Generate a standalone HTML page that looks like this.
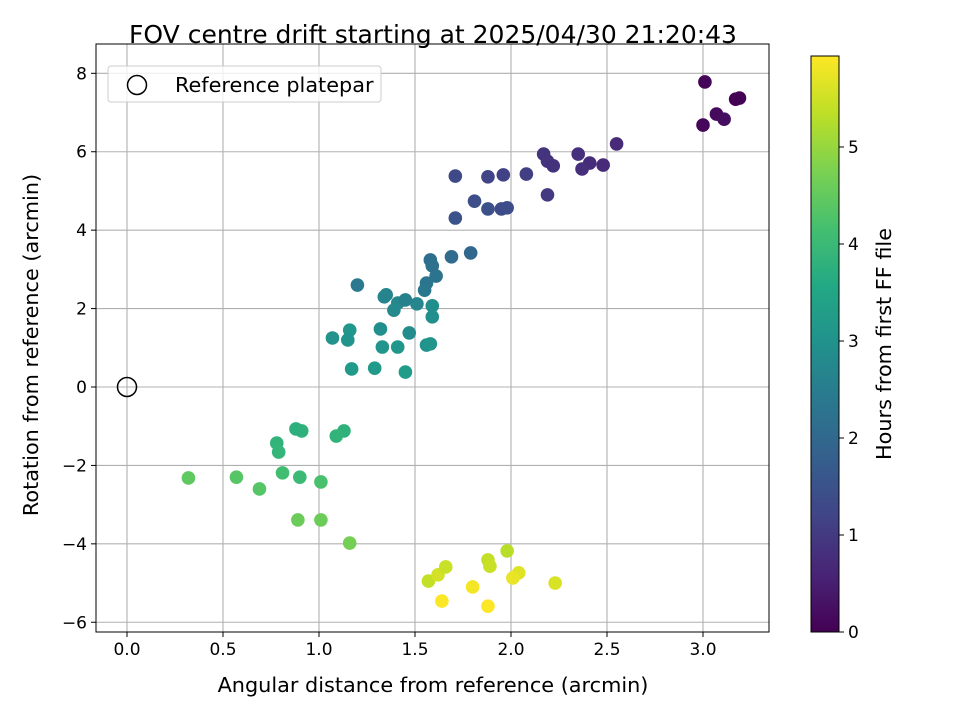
<!DOCTYPE html>
<html><head><meta charset="utf-8"><style>
html,body{margin:0;padding:0;background:#fff;}
svg{display:block;font-family:"DejaVu Sans","Liberation Sans",sans-serif;}
</style></head><body>
<svg id="chart" width="960" height="720">
<defs>
<linearGradient id="vir" x1="0" y1="1" x2="0" y2="0">
<stop offset="0" stop-color="#440154"/><stop offset="0.1" stop-color="#482475"/><stop offset="0.2" stop-color="#414487"/><stop offset="0.3" stop-color="#355f8d"/><stop offset="0.4" stop-color="#2a788e"/><stop offset="0.5" stop-color="#21918c"/><stop offset="0.6" stop-color="#22a884"/><stop offset="0.7" stop-color="#44bf70"/><stop offset="0.8" stop-color="#7ad151"/><stop offset="0.9" stop-color="#bddf26"/><stop offset="1" stop-color="#fde725"/>
</linearGradient>
</defs>
<g id="grid"></g>
<g id="points"></g>
<g id="axes"></g>
<text x="433" y="43" text-anchor="middle" font-size="25">FOV centre drift starting at 2025/04/30 21:20:43</text>
<text x="433" y="692" text-anchor="middle" font-size="20.8">Angular distance from reference (arcmin)</text>
<text transform="translate(38,345) rotate(-90)" text-anchor="middle" font-size="20.8">Rotation from reference (arcmin)</text>
<g>
<rect x="108" y="66" width="273" height="36" rx="3" fill="#fff" fill-opacity="0.8" stroke="#ccc"/>
<circle cx="137" cy="85" r="9.5" fill="none" stroke="#000" stroke-width="1.5"/>
<text x="175" y="92" font-size="20.8">Reference platepar</text>
</g>
<g id="cbar">
<rect x="811" y="56" width="28" height="576" fill="url(#vir)" stroke="#000" stroke-width="1"/>
</g>
<text transform="translate(891,344) rotate(-90)" text-anchor="middle" font-size="20.8">Hours from first FF file</text>
</svg>
<script>
const xVals=[3.01,3.0,3.07,3.11,3.17,3.19,2.55,2.41,2.37,2.35,2.48,2.17,2.19,2.22,2.08,1.96,1.88,1.71,2.19,1.81,1.88,1.95,1.98,1.71,1.79,1.69,1.58,1.59,1.61,1.56,1.55,1.20,1.34,1.35,1.41,1.39,1.45,1.51,1.59,1.59,1.16,1.07,1.15,1.32,1.47,1.33,1.41,1.56,1.58,1.17,1.29,1.45,0.91,0.88,0.78,0.79,1.13,1.09,0.81,0.90,1.01,0.57,0.69,0.32,0.89,1.01,1.16,1.98,1.88,1.89,1.57,1.62,1.66,2.04,2.01,2.23,1.80,1.64,1.88];
const yVals=[7.78,6.68,6.96,6.83,7.34,7.37,6.2,5.71,5.56,5.94,5.66,5.94,5.76,5.64,5.43,5.41,5.36,5.38,4.9,4.74,4.54,4.54,4.57,4.31,3.42,3.32,3.24,3.09,2.83,2.65,2.47,2.60,2.30,2.35,2.14,1.96,2.22,2.12,2.07,1.79,1.45,1.25,1.2,1.48,1.38,1.02,1.02,1.07,1.1,0.46,0.48,0.38,-1.12,-1.07,-1.43,-1.66,-1.12,-1.25,-2.19,-2.3,-2.42,-2.3,-2.6,-2.32,-3.39,-3.39,-3.98,-4.18,-4.41,-4.57,-4.95,-4.79,-4.59,-4.74,-4.87,-5.0,-5.1,-5.46,-5.59];
const hours=[0.05,0.1,0.15,0.2,0.0,0.02,0.7,0.75,0.8,0.8,0.72,0.9,0.88,0.85,1.1,1.15,1.2,1.3,1.0,1.4,1.45,1.35,1.38,1.5,2.0,2.1,2.15,2.2,2.25,2.3,2.35,2.4,2.7,2.65,2.75,2.8,2.6,2.7,2.9,2.95,3.1,3.0,3.05,2.95,2.85,3.05,3.1,3.0,3.05,3.2,3.2,3.25,3.8,3.75,3.85,3.9,3.8,3.85,4.1,4.0,4.2,4.35,4.35,4.45,4.6,4.6,4.7,5.3,5.4,5.45,5.4,5.55,5.45,5.65,5.75,5.6,5.85,5.92,5.92];
const xTicks=[0.0,0.5,1.0,1.5,2.0,2.5,3.0];
const yTicks=[-6,-4,-2,0,2,4,6,8];
const cTicks=[0,1,2,3,4,5];
const X0=96,X1=769,Y0=44,Y1=632;
const sx=v=>127+v*192;
const sy=v=>387-v*39.21;
const cy=v=>632-v*97;
const NS="http://www.w3.org/2000/svg";
function mk(tag,attrs,parent){const e=document.createElementNS(NS,tag);for(const k in attrs)e.setAttribute(k,attrs[k]);parent.appendChild(e);return e;}
const vir=[[68,1,84],[72,36,117],[65,68,135],[53,95,141],[42,120,142],[33,145,140],[34,168,132],[68,191,112],[122,209,81],[189,223,38],[253,231,37]];
function viridis(t){t=Math.max(0,Math.min(1,t));const f=t*10,i=Math.min(9,Math.floor(f)),r=f-i;const a=vir[i],b=vir[i+1];return `rgb(${a.map((c,k)=>Math.round(c+(b[k]-c)*r)).join(',')})`;}
const hMax=5.94;
const grid=document.getElementById('grid'),axes=document.getElementById('axes'),pts=document.getElementById('points'),cbar=document.getElementById('cbar');
xTicks.forEach(t=>{
 const g=mk('line',{x1:sx(t),x2:sx(t),y1:Y0,y2:Y1,stroke:'#b0b0b0','stroke-width':1.1},grid);
 
 const tk=mk('line',{x1:sx(t),x2:sx(t),y1:Y1,y2:Y1+5,stroke:'#000'},axes);
 
 const tx=mk('text',{x:sx(t),y:Y1+23,'text-anchor':'middle','font-size':17},axes);tx.textContent=t.toFixed(1);
 
});
yTicks.forEach(t=>{
 const g=mk('line',{x1:X0,x2:X1,y1:sy(t),y2:sy(t),stroke:'#b0b0b0','stroke-width':1.1},grid);
 
 const tk=mk('line',{x1:X0-5,x2:X0,y1:sy(t),y2:sy(t),stroke:'#000'},axes);
 
 const tx=mk('text',{x:X0-9,y:sy(t)+6,'text-anchor':'end','font-size':17},axes);tx.textContent=(t<0?'\u2212'+(-t):t);
 
});
xVals.forEach((v,i)=>{
 const c=mk('circle',{cx:sx(v),cy:sy(yVals[i]),r:6.8,fill:viridis(hours[i]/hMax)},pts);
 
});
const ref=mk('circle',{cx:sx(0),cy:sy(0),r:9.5,fill:'none',stroke:'#000','stroke-width':1.5},pts);

const fr=mk('rect',{x:X0,y:Y0,width:X1-X0,height:Y1-Y0,fill:'none',stroke:'#000','stroke-width':1},axes);

cTicks.forEach(t=>{
 const tk=mk('line',{x1:839,x2:844,y1:cy(t),y2:cy(t),stroke:'#000'},cbar);
 
 const tx=mk('text',{x:848,y:cy(t)+6,'font-size':17},cbar);tx.textContent=t;
 
});
</script>
</body></html>
